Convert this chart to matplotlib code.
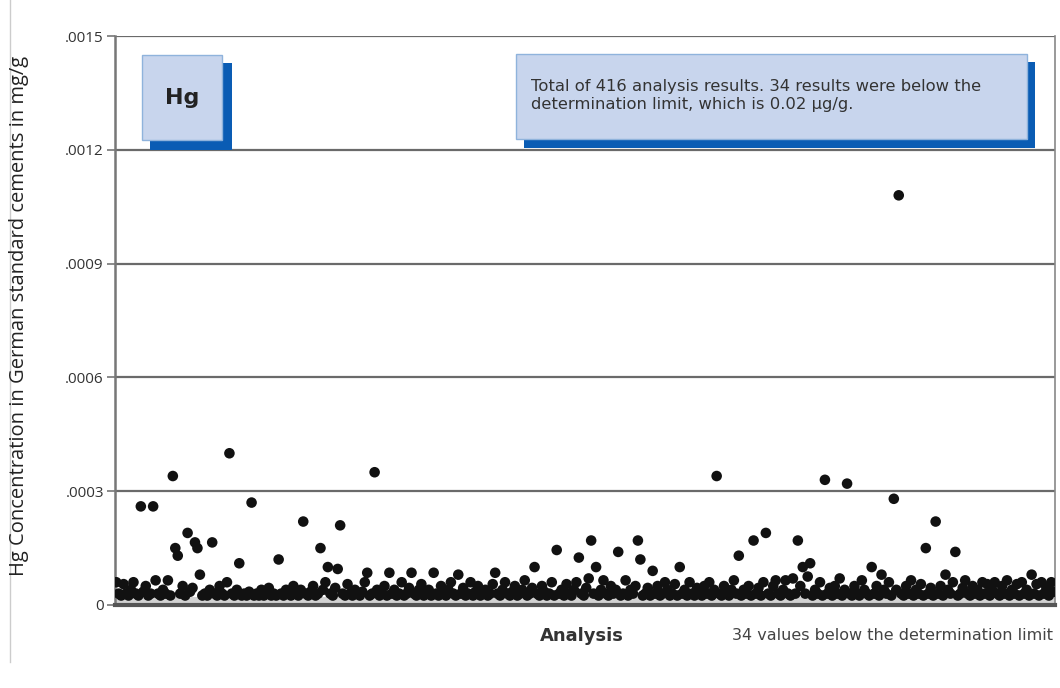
import matplotlib
matplotlib.use("Agg")
import matplotlib.pyplot as plt
import numpy as np
from matplotlib.patches import Rectangle
from matplotlib.lines import Line2D
from matplotlib.transforms import Affine2D

W, H = 1060, 688

# Hg results in units of 1e-5 mg/g (values above the determination limit)
hg = [
    6, 3, 2.5, 5.5, 3, 2.5, 4, 6, 3, 2.5, 26, 3.5, 5, 2.5, 3, 26, 6.5, 3, 2.5, 4,
    3, 6.5, 2.5, 34, 15, 13, 3, 5, 2.5, 19, 3.5, 4.5, 16.5, 15, 8, 2.5, 3, 2.5, 4, 16.5,
    3, 2.5, 5, 3, 2.5, 6, 40, 3, 2.5, 4, 11, 2.5, 3, 2.5, 3.5, 27, 2.5, 3, 2.5, 4,
    2.5, 3, 4.5, 2.5, 3, 2.5, 12, 3, 2.5, 4, 3, 2.5, 5, 3, 2.5, 4, 22, 3, 2.5, 3.5,
    5, 2.5, 3, 15, 4, 6, 10, 3, 2.5, 4.5, 9.5, 21, 3, 2.5, 5.5, 3, 2.5, 4, 3, 2.5,
    3.5, 6, 8.5, 2.5, 3, 35, 4, 2.5, 3, 5, 2.5, 8.5, 3, 4, 2.5, 3, 6, 2.5, 3, 4.5,
    8.5, 3, 2.5, 4, 5.5, 2.5, 3, 4, 2.5, 8.5, 3, 2.5, 5, 3.5, 2.5, 4, 6, 3, 2.5, 8,
    3, 4.5, 2.5, 3, 6, 2.5, 3.5, 5, 2.5, 3, 4, 2.5, 3, 5.5, 8.5, 3, 2.5, 4, 6, 3,
    2.5, 3.5, 5, 2.5, 3, 4, 6.5, 2.5, 3, 4.5, 10, 3, 2.5, 5, 3.5, 2.5, 3, 6, 2.5, 14.5,
    3, 4, 2.5, 5.5, 3, 2.5, 4, 6, 12.5, 3, 2.5, 4.5, 7, 17, 3, 10, 2.5, 4, 6.5, 3,
    2.5, 5, 3, 4, 14, 2.5, 3, 6.5, 2.5, 4, 3, 5, 17, 12, 2.5, 3, 4.5, 2.5, 9, 3,
    5, 2.5, 3, 6, 4, 2.5, 3, 5.5, 2.5, 10, 3, 4, 2.5, 6, 3, 2.5, 4.5, 3, 2.5, 5,
    3, 6, 2.5, 4, 34, 3, 2.5, 5, 3.5, 2.5, 4, 6.5, 3, 13, 2.5, 4, 3, 5, 2.5, 17,
    3, 4.5, 2.5, 6, 19, 3, 2.5, 5, 6.5, 3, 2.5, 4, 6.5, 3, 2.5, 7, 3, 17, 5, 10,
    3, 7.5, 11, 2.5, 4, 3, 6, 2.5, 33, 3, 4.5, 2.5, 5, 3, 7, 2.5, 4, 32, 3, 2.5,
    5, 3, 2.5, 6.5, 4, 3, 2.5, 10, 3, 5, 2.5, 8, 4, 3, 6, 2.5, 28, 4, 108, 3,
    2.5, 5, 3, 6.5, 2.5, 4, 3, 5.5, 2.5, 15, 3, 4.5, 2.5, 22, 3, 5, 2.5, 8, 4, 3,
    6, 14, 2.5, 3, 4.5, 6.5, 3, 2.5, 5, 3, 4, 2.5, 6, 3, 5.5, 2.5, 4, 6, 3, 2.5,
    5, 3, 6.5, 2.5, 4, 3, 5.5, 2.5, 6, 3, 4, 2.5, 8, 3, 5.5, 2.5, 6, 3, 4.5, 2.5,
    6, 3.5,
]
det_limit = 0.00002
yticks = [0, 0.0003, 0.0006, 0.0009, 0.0012, 0.0015]
ytick_labels = ['0', '.0003', '.0006', '.0009', '.0012', '.0015']

values = np.array(hg) * 1e-5
x = np.arange(len(values))

fig = plt.figure(figsize=(W / 100, H / 100), dpi=100)
px = Affine2D().scale(1 / W, -1 / H).translate(0, 1) + fig.transFigure

ax = fig.add_axes([115 / W, 1 - 605 / H, 940 / W, 569 / H])
ax.set_xlim(-0.5, len(values) - 0.5)
ax.set_ylim(0, 0.0015)

ax.axhspan(0, det_limit, color='#d2d2d2', zorder=1, lw=0)
for t in yticks[1:]:
    ax.axhline(t, color='#6a6a6a', lw=1.6, zorder=2)
ax.scatter(x, values, s=58, color='#111111', edgecolors='none', zorder=3)

ax.set_yticks(yticks)
ax.set_yticklabels(ytick_labels, fontsize=11, color='#333333', family='Open Sans')
ax.set_xticks([])
ax.tick_params(axis='y', length=6, width=1.2, color='#777777', pad=2)
ax.spines['top'].set_visible(False)
ax.spines['left'].set_color('#777777')
ax.spines['left'].set_linewidth(1.8)
ax.spines['right'].set_color('#888888')
ax.spines['right'].set_linewidth(1.2)
ax.spines['bottom'].set_color('#555555')
ax.spines['bottom'].set_linewidth(3)

fig.text(19 / W, 1 - 316 / H, 'Hg Concentration in German standard cements in mg/g',
         rotation=90, ha='center', va='center', fontsize=14.5, color='#222222',
         family='Open Sans')

# Hg label box with shadow
fig.add_artist(Rectangle((150, 150), 82, -87, transform=px, facecolor='#0a5cb4', edgecolor='none'))
fig.add_artist(Rectangle((142, 140), 80, -85, transform=px, facecolor='#c8d5ed', edgecolor='#8fb3dc', lw=1))
fig.text(182 / W, 1 - 98 / H, 'Hg', ha='center', va='center', fontsize=16,
         fontweight='bold', color='#222222', family='DejaVu Sans')

# info box with shadow
fig.add_artist(Rectangle((524, 148), 511, -86, transform=px, facecolor='#0a5cb4', edgecolor='none'))
fig.add_artist(Rectangle((516, 139), 511, -85, transform=px, facecolor='#c8d5ed', edgecolor='#8fb3dc', lw=1))
fig.text(531 / W, 1 - 86 / H, 'Total of 416 analysis results. 34 results were below the',
         ha='left', va='center', fontsize=11.8, color='#333333', family='DejaVu Sans')
fig.text(531 / W, 1 - 105 / H, 'determination limit, which is 0.02 \u00b5g/g.',
         ha='left', va='center', fontsize=11.8, color='#333333', family='DejaVu Sans')

fig.text(582 / W, 1 - 636 / H, 'Analysis', ha='center', va='center', fontsize=13,
         fontweight='bold', color='#333333', family='DejaVu Sans')
fig.text(1053 / W, 1 - 636 / H, '34 values below the determination limit', ha='right',
         va='center', fontsize=11.5, color='#444444', family='DejaVu Sans')

fig.add_artist(Line2D([10, 10], [0, 662], transform=px, color='#cccccc', lw=1))

fig.savefig('out.png', dpi=100)
